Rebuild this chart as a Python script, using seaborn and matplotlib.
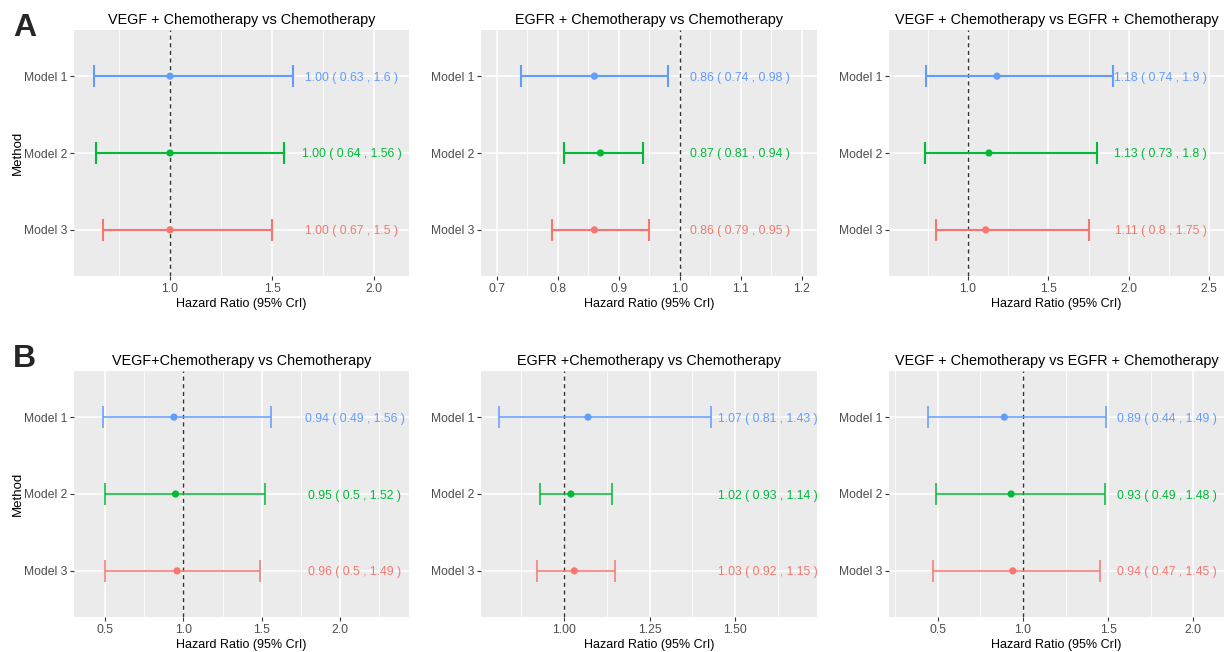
import numpy as np
import pandas as pd
import matplotlib
matplotlib.use("Agg")
import matplotlib.pyplot as plt
import seaborn as sns
from matplotlib.ticker import MultipleLocator

sns.set_theme(style="darkgrid")
plt.rcParams['font.family'] = ['Liberation Sans', 'DejaVu Sans']

# ---------------- data ----------------
models = ["Model 1", "Model 2", "Model 3"]
colors = ["#619CFF", "#00BA38", "#F8766D"]

titles_A = ["VEGF + Chemotherapy vs Chemotherapy",
            "EGFR + Chemotherapy vs Chemotherapy",
            "VEGF + Chemotherapy vs EGFR + Chemotherapy"]
titles_B = ["VEGF+Chemotherapy vs Chemotherapy",
            "EGFR +Chemotherapy vs Chemotherapy",
            "VEGF + Chemotherapy vs EGFR + Chemotherapy"]

A1_hr = [1.00, 1.00, 1.00]; A1_lo = [0.63, 0.64, 0.67]; A1_hi = [1.6, 1.56, 1.5]
A2_hr = [0.86, 0.87, 0.86]; A2_lo = [0.74, 0.81, 0.79]; A2_hi = [0.98, 0.94, 0.95]
A3_hr = [1.18, 1.13, 1.11]; A3_lo = [0.74, 0.73, 0.8];  A3_hi = [1.9, 1.8, 1.75]
B1_hr = [0.94, 0.95, 0.96]; B1_lo = [0.49, 0.5, 0.5];   B1_hi = [1.56, 1.52, 1.49]
B2_hr = [1.07, 1.02, 1.03]; B2_lo = [0.81, 0.93, 0.92]; B2_hi = [1.43, 1.14, 1.15]
B3_hr = [0.89, 0.93, 0.94]; B3_lo = [0.44, 0.49, 0.47]; B3_hi = [1.49, 1.48, 1.45]

A1_lab = ["1.00 ( 0.63 , 1.6 )", "1.00 ( 0.64 , 1.56 )", "1.00 ( 0.67 , 1.5 )"]
A2_lab = ["0.86 ( 0.74 , 0.98 )", "0.87 ( 0.81 , 0.94 )", "0.86 ( 0.79 , 0.95 )"]
A3_lab = ["1.18 ( 0.74 , 1.9 )", "1.13 ( 0.73 , 1.8 )", "1.11 ( 0.8 , 1.75 )"]
B1_lab = ["0.94 ( 0.49 , 1.56 )", "0.95 ( 0.5 , 1.52 )", "0.96 ( 0.5 , 1.49 )"]
B2_lab = ["1.07 ( 0.81 , 1.43 )", "1.02 ( 0.93 , 1.14 )", "1.03 ( 0.92 , 1.15 )"]
B3_lab = ["0.89 ( 0.44 , 1.49 )", "0.93 ( 0.49 , 1.48 )", "0.94 ( 0.47 , 1.45 )"]

# ---------------- layout ----------------
W, H = 1225, 652
col_x = [(74, 409), (481, 817), (889, 1224)]
row_y = [(30, 276), (371, 617)]
panels = [
    # hr, lo, hi, labels, title, xlim, major, minor, label_x, fmt, lw
    (A1_hr, A1_lo, A1_hi, A1_lab, titles_A[0], (0.53, 2.17), 0.5, 0.25, 1.89, "%.1f", 1.5),
    (A2_hr, A2_lo, A2_hi, A2_lab, titles_A[1], (0.674, 1.225), 0.1, 0.05, 1.098, "%.1f", 1.5),
    (A3_hr, A3_lo, A3_hi, A3_lab, titles_A[2], (0.508, 2.593), 0.5, 0.25, 2.2, "%.1f", 1.5),
    (B1_hr, B1_lo, B1_hi, B1_lab, titles_B[0], (0.302, 2.44), 0.5, 0.25, 2.095, "%.1f", 1.1),
    (B2_hr, B2_lo, B2_hi, B2_lab, titles_B[1], (0.757, 1.74), 0.25, 0.125, 1.595, "%.2f", 1.1),
    (B3_hr, B3_lo, B3_hi, B3_lab, titles_B[2], (0.213, 2.18), 0.5, 0.25, 1.847, "%.1f", 1.1),
]

fig = plt.figure(figsize=(W / 100, H / 100), dpi=100)
fig.patch.set_facecolor("white")

for i, (hr, lo, hi, labs, title, xlim, maj, mnr, lx, fmt, lw) in enumerate(panels):
    r, c = divmod(i, 3)
    x0, x1 = col_x[c]
    y0, y1 = row_y[r]
    ax = fig.add_axes([x0 / W, 1 - y1 / H, (x1 - x0) / W, (y1 - y0) / H])
    ax.set_facecolor("#EBEBEB")
    for s in ax.spines.values():
        s.set_visible(False)

    df = pd.DataFrame({"Method": models, "hr": hr, "lo": lo, "hi": hi, "lab": labs})
    df["ypos"] = np.arange(len(models))

    ax.axvline(1.0, color="#333333", lw=1.0, ls=(0, (3, 2.5)), zorder=2)
    for k, row in df.iterrows():
        ax.errorbar(row["hr"], row["ypos"],
                    xerr=[[row["hr"] - row["lo"]], [row["hi"] - row["hr"]]],
                    fmt="none", ecolor=colors[k], elinewidth=lw, capsize=8,
                    capthick=lw, zorder=3)
        ax.text(lx, row["ypos"], row["lab"], color=colors[k], fontsize=8.7,
                ha="center", va="center_baseline", zorder=4)
    sns.scatterplot(data=df, x="hr", y="ypos", hue="Method", palette=colors,
                    s=27, linewidth=0, legend=False, ax=ax, zorder=4)

    ax.set_xlim(*xlim)
    ax.set_ylim(2.6, -0.6)
    ax.set_yticks(df["ypos"])
    ax.set_yticklabels(models)
    ax.xaxis.set_major_locator(MultipleLocator(maj))
    ax.xaxis.set_minor_locator(MultipleLocator(mnr))
    ax.xaxis.set_major_formatter(matplotlib.ticker.FormatStrFormatter(fmt))
    ax.grid(which="major", color="white", lw=1.1)
    ax.grid(which="minor", axis="x", color="white", lw=0.55)
    ax.set_axisbelow(True)
    ax.tick_params(axis="both", which="major", length=3, width=0.8, color="#333333",
                   labelsize=8.7, labelcolor="#4D4D4D", pad=2, bottom=True, left=True)
    ax.tick_params(axis="x", which="minor", length=0)
    ax.set_xlabel("Hazard Ratio (95% CrI)", fontsize=9, color="black", labelpad=2)
    ax.set_ylabel("Method" if c == 0 else "", fontsize=9.5, color="black", labelpad=0)
    ax.set_title(title, fontsize=10.4, color="black", pad=4)

fig.text(13 / W, 1 - 36 / H, "A", fontsize=23, fontweight="bold", va="baseline", ha="left")
fig.text(13 / W, 1 - 367 / H, "B", fontsize=23, fontweight="bold", va="baseline", ha="left")

fig.savefig("out.png", dpi=100, facecolor="white")
